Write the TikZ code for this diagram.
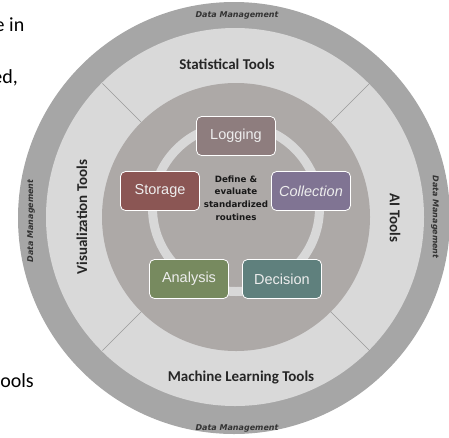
\documentclass[tikz,border=0pt]{standalone}
\usepackage{fontspec}
\setmainfont{Carlito}
\newfontfamily\boxfont{Liberation Sans}
\newfontfamily\smallfont{DejaVu Sans}
\definecolor{outerring}{HTML}{A6A6A6}
\definecolor{toolring}{HTML}{D9D9D9}
\definecolor{innerdisc}{HTML}{ADA9A7}
\definecolor{innerband}{HTML}{D8D8D8}
\definecolor{divider}{HTML}{9A9A9A}
\definecolor{loggingc}{HTML}{8E7D7E}
\definecolor{storagec}{HTML}{8B5654}
\definecolor{collectionc}{HTML}{807493}
\definecolor{analysisc}{HTML}{778A5F}
\definecolor{decisionc}{HTML}{5F807D}
\begin{document}
\begin{tikzpicture}[x=1pt,y=-1pt,
  stepbox/.style={draw=white, line width=0.8pt, rounded corners=5pt,
    minimum width=79pt, minimum height=39pt, inner sep=0pt,
    text=white!93!black, font=\boxfont\fontsize{14.5}{16}\selectfont},
  tooltext/.style={inner sep=0pt, text=black!85,
    font=\bfseries\fontsize{15}{18}\selectfont},
  dmtext/.style={inner sep=0pt, text=black!80,
    font=\smallfont\bfseries\itshape\fontsize{8}{9}\selectfont},
  bodytext/.style={inner sep=0pt, text=black,
    font=\fontsize{20}{24}\selectfont},
]
\useasboundingbox (0,0) rectangle (449,437);

% running text beside the figure
\node[bodytext, anchor=base east] (txta) at (24.5,31) {e in};
\node[bodytext, anchor=base east] (txtb) at (18,83) {ed,};
\node[bodytext, anchor=base east] (txtc) at (34,387) {ools};

% concentric rings
\fill[outerring] (234,218) circle (216pt);
\fill[toolring] (235,217) circle (189pt);
\fill[innerdisc] (236,217) circle (134pt);

% dividers between the tool sectors
\draw[divider, line width=0.5pt] (141.3,122.3) -- (102.4,83.4);
\draw[divider, line width=0.5pt] (330.7,122.3) -- (369.6,83.4);
\draw[divider, line width=0.5pt] (141.3,311.7) -- (102.4,350.6);
\draw[divider, line width=0.5pt] (330.7,311.7) -- (369.6,350.6);

% cycle band behind the steps
\draw[innerband, line width=9pt] (236,208) circle (83.5pt);

% outer ring labels
\node[dmtext] (dmtop) at (237,15) {Data Management};
\node[dmtext] (dmbot) at (237,428) {Data Management};
\node[dmtext, rotate=90] (dmleft) at (31,221) {Data Management};
\node[dmtext, rotate=-90] (dmright) at (435,217) {Data Management};

% tool sector labels
\node[tooltext] (stat) at (227,64) {Statistical Tools};
\node[tooltext] (ml) at (241,377) {Machine Learning Tools};
\node[tooltext, rotate=90] (vis) at (82,217) {Visualization Tools};
\node[tooltext, rotate=-90] (ai) at (395,218) {AI Tools};

% cycle steps
\node[stepbox, fill=loggingc] (logging) at (236,136) {Logging};
\node[stepbox, fill=storagec] (storage) at (160,191) {Storage};
\node[stepbox, fill=collectionc] (collection) at (311,191) {\itshape Collection};
\node[stepbox, fill=analysisc] (analysis) at (189,279) {Analysis};
\node[stepbox, fill=decisionc] (decision) at (282,279) {Decision};

% centre statement
\node[inner sep=0pt, align=center, text=black!90,
  font=\smallfont\bfseries\fontsize{8.7}{12.5}\selectfont] (core) at (236,198)
  {Define \&\\evaluate\\standardized\\routines};
\end{tikzpicture}
\end{document}
